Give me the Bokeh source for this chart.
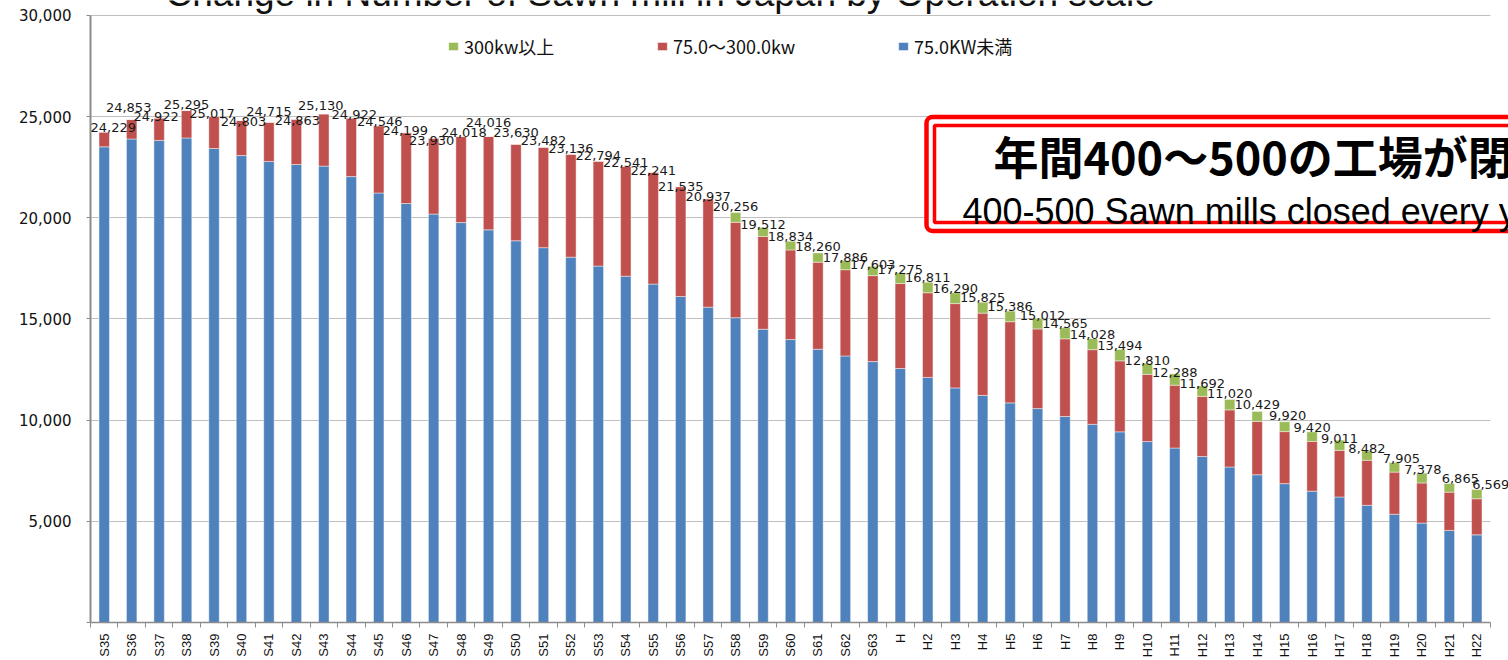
import math
from bokeh.plotting import figure
from bokeh.models import (ColumnDataSource, FixedTicker, NumeralTickFormatter, Legend,
                          LegendItem, Label, LabelSet, BoxAnnotation, Range1d)
from bokeh.embed import file_html
from bokeh.resources import INLINE
from bokeh.core.properties import value

# ---------------- data ----------------
categories = ["S35", "S36", "S37", "S38", "S39", "S40", "S41", "S42", "S43", "S44",
              "S45", "S46", "S47", "S48", "S49", "S50", "S51", "S52", "S53", "S54",
              "S55", "S56", "S57", "S58", "S59", "S60", "S61", "S62", "S63", "H",
              "H2", "H3", "H4", "H5", "H6", "H7", "H8", "H9", "H10", "H11",
              "H12", "H13", "H14", "H15", "H16", "H17", "H18", "H19", "H20", "H21", "H22"]

series_names = ["75.0KW未満", "75.0〜300.0kw", "300kw以上"]

small_kw = [23500, 23890, 23820, 23940, 23420, 23070, 22780, 22630, 22550, 22030,
            21220, 20700, 20180, 19760, 19400, 18860, 18520, 18050, 17610, 17110,
            16720, 16110, 15580, 15060, 14490, 13980, 13500, 13170, 12890, 12550,
            12110, 11590, 11220, 10850, 10570, 10180, 9790, 9420, 8940, 8620,
            8200, 7680, 7300, 6860, 6490, 6200, 5790, 5350, 4910, 4550, 4330]

mid_kw = [729, 963, 1102, 1355, 1597, 1733, 1935, 2233, 2580, 2892,
          3326, 3499, 3750, 4258, 4616, 4770, 4962, 5086, 5184, 5431,
          5521, 5425, 5357, 4712, 4583, 4427, 4305, 4261, 4248, 4198,
          4183, 4166, 4065, 4012, 3934, 3836, 3690, 3507, 3320, 3104,
          2971, 2824, 2635, 2571, 2453, 2304, 2226, 2081, 1984, 1889, 1784]

large_kw = [0, 0, 0, 0, 0, 0, 0, 0, 0, 0,
            0, 0, 0, 0, 0, 0, 0, 0, 0, 0,
            0, 0, 0, 484, 439, 427, 455, 455, 465, 527,
            518, 534, 540, 524, 508, 549, 548, 567, 550, 564,
            521, 516, 494, 489, 477, 507, 466, 474, 484, 426, 455]

totals = [24229, 24853, 24922, 25295, 25017, 24803, 24715, 24863, 25130, 24922,
          24546, 24199, 23930, 24018, 24016, 23630, 23482, 23136, 22794, 22541,
          22241, 21535, 20937, 20256, 19512, 18834, 18260, 17886, 17603, 17275,
          16811, 16290, 15825, 15386, 15012, 14565, 14028, 13494, 12810, 12288,
          11692, 11020, 10429, 9920, 9420, 9011, 8482, 7905, 7378, 6865, 6569]

y_ticks = [0, 5000, 10000, 15000, 20000, 25000, 30000]
y_max = 30000

title_text = "Change in Number of Sawn mill in Japan by Operation scale"
note_jp = "年間400〜500の工場が閉鎖"
note_en = "400-500 Sawn mills  closed every year"

# label nudges (screen px, +up) to mimic the staggered data labels
label_dx = [9, -3, -3, 0, -2, 2, 0, 1, -3, 3, 1, -1, -2, 3, 0, 0, 0, 0, 0, 0,
            0, 0, 0, 0, 0, 0, 0, 0, 0, 0, 0, 0, 0, 0, 5, 0, 0, 0, 0, 0,
            0, 0, 0, 3, 0, 0, 0, 7, 1, 11, 14]
label_dy = [5, 12, 2, 6, 3, -1, 11, -1, 8, 4, 4, 2, -2, 4, 14, 12, 7, 6, 6, 4,
            2, 0, 2, 6, 3, 5, 6, 3, 2, 3, 5, 4, 5, 5, 3, 4, 4, 4, 3, 1,
            2, 6, 7, 6, 4, 2, 2, 4, 4, 5, 5]

# ---------------- figure ----------------
BLUE, RED, GREEN = "#4F81BD", "#C0504D", "#9BBB59"
n = len(categories)
xs = list(range(n))

src = ColumnDataSource(dict(
    x=xs, small=small_kw, mid=mid_kw, large=large_kw, total=totals,
    label=[f"{t:,}" for t in totals], dx=label_dx, dy=label_dy,
))

PLOT_W, AXIS_END_PX = 1418, 1400          # frame width, where the axis/grid stop
PLOT_H, AXIS_TOP_PX = 630, 615            # frame height, where the value axis stops
x_end = -0.5 + n * PLOT_W / AXIS_END_PX
y_end = y_max * PLOT_H / AXIS_TOP_PX

p = figure(width=1508, height=660, output_backend="svg", toolbar_location=None,
           x_range=Range1d(-0.5, x_end), y_range=Range1d(0, y_end),
           min_border_left=90, min_border_right=0, min_border_top=0, min_border_bottom=30)
p.outline_line_color = None
p.background_fill_color = "white"
p.border_fill_color = "white"

# white strip hiding the grid lines beyond the last category (grid stops like original)
p.add_layout(BoxAnnotation(left=AXIS_END_PX, left_units="screen", fill_color="white",
                           fill_alpha=1, line_alpha=0, level="underlay"))

rs = p.vbar_stack(["small", "mid", "large"], x="x", width=0.38, source=src,
                  color=[BLUE, RED, GREEN], line_color="white", line_width=0.8, line_alpha=0.55)

p.add_layout(LabelSet(x="x", y="total", text="label", source=src,
                      x_offset="dx", y_offset="dy",
                      text_align="center", text_baseline="middle",
                      text_font=value("DejaVu Sans"),
                      text_font_size=value("13px"), text_color=value("#1a1a1a")))

# x axis
xa = p.xaxis[0]
xa.bounds = (-0.5, n - 0.5)
xa.ticker = FixedTicker(ticks=xs, minor_ticks=[i + 0.5 for i in range(-1, n)])
xa.major_label_overrides = {i: c for i, c in enumerate(categories)}
xa.major_label_orientation = math.pi / 2
xa.major_tick_out = 0
xa.major_tick_in = 0
xa.minor_tick_out = 5
xa.minor_tick_in = 0
xa.minor_tick_line_color = "#8c8c8c"
xa.axis_line_color = "#8c8c8c"
xa.axis_line_width = 1.5
xa.major_label_standoff = 6
xa.major_label_text_font = "Liberation Sans Narrow, Liberation Sans"
xa.major_label_text_font_size = "13px"
xa.major_label_text_color = "#111111"
p.xgrid.grid_line_color = None

# y axis
ya = p.yaxis[0]
ya.bounds = (0, y_max)
ya.ticker = FixedTicker(ticks=y_ticks)
ya.formatter = NumeralTickFormatter(format="0,0")
ya.major_label_overrides = {0: ""}
ya.minor_tick_line_color = None
ya.major_tick_out = 4
ya.major_tick_in = 0
ya.major_tick_line_color = "#8c8c8c"
ya.axis_line_color = "#8c8c8c"
ya.axis_line_width = 2
ya.major_label_standoff = 15
ya.major_label_text_font = "DejaVu Sans"
ya.major_label_text_font_size = "15px"
ya.major_label_text_color = "#111111"
p.ygrid.grid_line_color = "#BFBFBF"
p.ygrid.grid_line_width = 1

# legends (one per entry, placed like the original)
legend_x = [357, 566, 807]
for (name, r, lx) in zip(["300kw以上", "75.0〜300.0kw", "75.0KW未満"], [rs[2], rs[1], rs[0]], legend_x):
    leg = Legend(items=[LegendItem(label=name, renderers=[r])], location=(lx, 563),
                 orientation="horizontal", padding=0, margin=0, spacing=0,
                 glyph_width=12, glyph_height=10, label_height=10, label_standoff=5,
                 label_text_font="Noto Sans CJK JP", label_text_font_size="18px",
                 label_text_color="#111111", border_line_color=None,
                 background_fill_alpha=0)
    p.add_layout(leg, "center")

# title (mostly cut off at the top, as in the original)
p.add_layout(Label(x=75, y=629, x_units="screen", y_units="screen", text=title_text,
                   text_font="Liberation Sans", text_font_size="37px",
                   text_baseline="alphabetic", text_color="#111111"))

# red annotation box
p.add_layout(BoxAnnotation(left=836, right=1460, top=505.5, bottom=391.5,
                           left_units="screen", right_units="screen",
                           top_units="screen", bottom_units="screen",
                           fill_color="white", fill_alpha=1, line_color="#FF0000",
                           line_alpha=1, line_width=4.5, border_radius=6, level="overlay"))
p.add_layout(BoxAnnotation(left=844, right=1450, top=497, bottom=400,
                           left_units="screen", right_units="screen",
                           top_units="screen", bottom_units="screen",
                           fill_alpha=0, line_color="#FF0000", line_alpha=1,
                           line_width=3.5, level="overlay"))
p.add_layout(Label(x=903, y=467, x_units="screen", y_units="screen", text=note_jp,
                   text_font="Noto Sans CJK JP", text_font_style="bold",
                   text_font_size="45px", text_baseline="middle", text_color="#000000",
                   level="overlay"))
p.add_layout(Label(x=872, y=411, x_units="screen", y_units="screen", text=note_en,
                   text_font="Liberation Sans", text_font_size="36px",
                   text_baseline="alphabetic", text_color="#000000", level="overlay"))

open("out.html", "w").write(file_html(p, INLINE))
